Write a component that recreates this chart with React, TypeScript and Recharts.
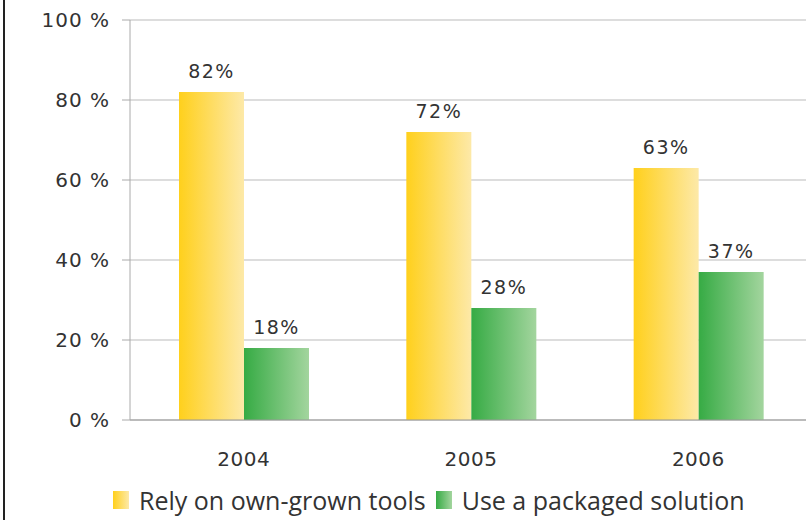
import { BarChart, Bar, XAxis, YAxis, CartesianGrid, LabelList, Legend } from "recharts";

const years = ["2004", "2005", "2006"];
const ownGrown = [82, 72, 63];
const packaged = [18, 28, 37];
const yTicks = [0, 20, 40, 60, 80, 100];

const data = years.map((year, i) => ({
  year,
  own: ownGrown[i],
  pkg: packaged[i],
}));

const legendItems = [
  { label: "Rely on own-grown tools", fill: "url(#gradYellow)" },
  { label: "Use a packaged solution", fill: "url(#gradGreen)" },
];

function LegendContent() {
  return (
    <div style={{ display: "flex", alignItems: "center", paddingLeft: 113, height: 33 }}>
      {legendItems.map((it, i) => (
        <div key={i} style={{ display: "flex", alignItems: "center", marginRight: 10 }}>
          <svg width={16} height={18} style={{ marginRight: 10 }}>
            <rect x={0} y={0} width={16} height={18} fill={it.fill} />
          </svg>
          <span style={{ fontFamily: "Open Sans", fontSize: 25, color: "#333" }}>{it.label}</span>
        </div>
      ))}
    </div>
  );
}

export default function App() {
  return (
    <div
      style={{
        position: "absolute",
        left: 0,
        top: 0,
        width: 806,
        height: 520,
        overflow: "hidden",
        background: "#fff",
      }}
    >
      <div
        style={{ position: "absolute", left: 3, top: 0, width: 2, height: 520, background: "#222" }}
      />
      <BarChart
        width={822}
        height={520}
        data={data}
        margin={{ top: 20, right: 10, left: 0, bottom: 27 }}
        barGap={0}
        barSize={65}
      >
        <defs>
          <linearGradient id="gradYellow" x1="0" y1="0" x2="1" y2="0">
            <stop offset="0%" stopColor="#ffd01c" />
            <stop offset="100%" stopColor="#fde9a8" />
          </linearGradient>
          <linearGradient id="gradGreen" x1="0" y1="0" x2="1" y2="0">
            <stop offset="0%" stopColor="#36ab44" />
            <stop offset="100%" stopColor="#a3d59e" />
          </linearGradient>
        </defs>
        <CartesianGrid vertical={false} stroke="#d2d2d2" strokeWidth={1.5} />
        <XAxis
          dataKey="year"
          stroke="#999"
          tickLine={false}
          tickMargin={26}
          tick={{ fill: "#333", fontSize: 20, fontFamily: "DejaVu Sans", letterSpacing: 0.5 }}
          height={40}
        />
        <YAxis
          domain={[0, 100]}
          ticks={yTicks}
          width={130}
          stroke="#aaa"
          tickSize={8}
          tickMargin={12}
          tickFormatter={(v) => `${v} %`}
          tick={{ fill: "#333", fontSize: 20, fontFamily: "DejaVu Sans", letterSpacing: 1 }}
        />
        <Legend
          verticalAlign="bottom"
          align="left"
          content={<LegendContent />}
          wrapperStyle={{ left: 0, bottom: 4, width: 806 }}
        />
        <Bar dataKey="own" fill="url(#gradYellow)" isAnimationActive={false}>
          <LabelList
            dataKey="own"
            position="top"
            offset={14}
            formatter={(v: number) => `${v}%`}
            style={{ fill: "#333", fontSize: 19, fontFamily: "DejaVu Sans", letterSpacing: 1.5 }}
          />
        </Bar>
        <Bar dataKey="pkg" fill="url(#gradGreen)" isAnimationActive={false}>
          <LabelList
            dataKey="pkg"
            position="top"
            offset={14}
            formatter={(v: number) => `${v}%`}
            style={{ fill: "#333", fontSize: 19, fontFamily: "DejaVu Sans", letterSpacing: 1.5 }}
          />
        </Bar>
      </BarChart>
    </div>
  );
}
